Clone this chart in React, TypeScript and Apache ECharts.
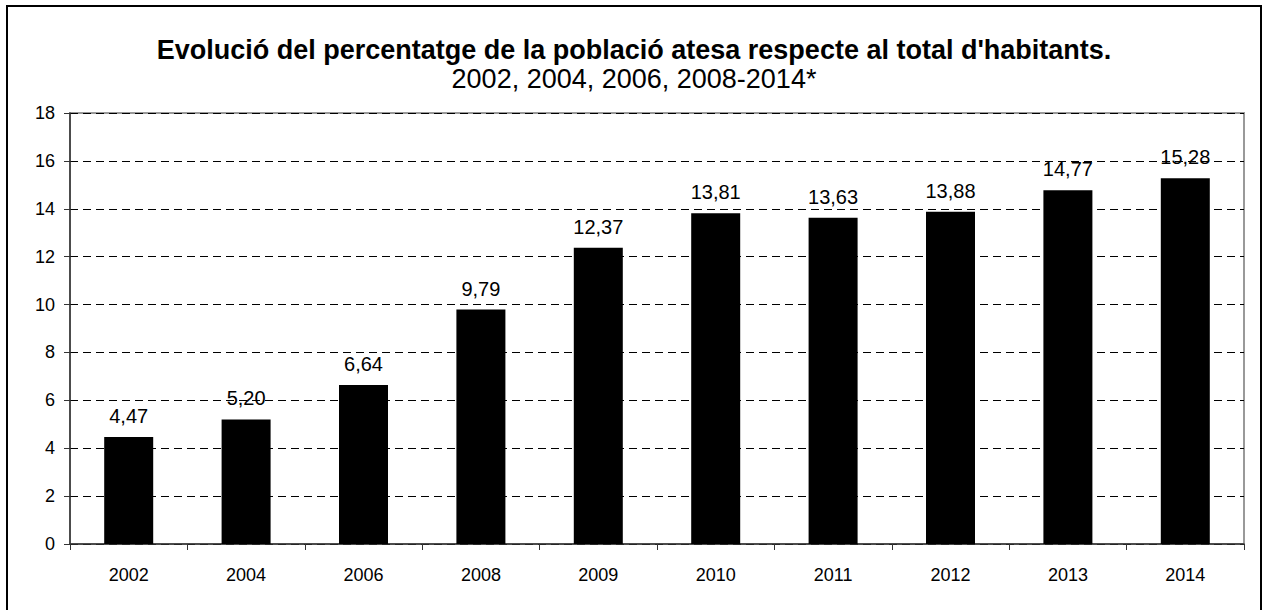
import React, { useEffect, useRef } from "react";
import * as echarts from "echarts";

const categories = ["2002", "2004", "2006", "2008", "2009", "2010", "2011", "2012", "2013", "2014"];
const values = [4.47, 5.2, 6.64, 9.79, 12.37, 13.81, 13.63, 13.88, 14.77, 15.28];
const titleText = "Evolució del percentatge de la població atesa respecte al total d'habitants.";
const subtitleText = "2002, 2004, 2006, 2008-2014*";

const FONT = "'Liberation Sans', Arial, sans-serif";

export default function App() {
  const ref = useRef<HTMLDivElement>(null);
  useEffect(() => {
    const chart = echarts.init(ref.current!, null, { renderer: "svg" });
    chart.setOption({
      animation: false,
      backgroundColor: "#ffffff",
      textStyle: { fontFamily: FONT },
      title: {
        text: titleText,
        subtext: subtitleText,
        left: "center",
        top: 31,
        itemGap: 2,
        textStyle: { fontFamily: FONT, fontSize: 27, fontWeight: "bold", color: "#000" },
        subtextStyle: { fontFamily: FONT, fontSize: 27, color: "#000" },
      },
      graphic: [
        {
          type: "rect",
          shape: { x: 7, y: 6, width: 1254, height: 620 },
          style: { fill: "none", stroke: "#000", lineWidth: 2 },
          silent: true,
        },
      ],
      grid: {
        left: 70,
        right: 24,
        top: 113,
        bottom: 66,
        show: true,
        borderColor: "#999",
        borderWidth: 2,
      },
      xAxis: {
        type: "category",
        data: categories,
        axisLine: { lineStyle: { color: "#333", width: 1.5 } },
        axisTick: { show: true, alignWithLabel: false, length: 6, lineStyle: { color: "#333" } },
        axisLabel: { color: "#000", fontSize: 18, fontFamily: FONT, margin: 22 },
      },
      yAxis: {
        type: "value",
        min: 0,
        max: 18,
        interval: 2,
        axisLine: { show: true, lineStyle: { color: "#333", width: 1.5 } },
        axisTick: { show: true, length: 6, lineStyle: { color: "#333" } },
        axisLabel: { color: "#000", fontSize: 18, fontFamily: FONT, margin: 15 },
        splitLine: { show: true, lineStyle: { color: "#000", type: [8, 5], width: 1 } },
      },
      series: [
        {
          type: "bar",
          data: values,
          barWidth: 49,
          itemStyle: { color: "#000" },
          label: {
            show: true,
            position: "top",
            distance: 11,
            color: "#000",
            fontSize: 20,
            fontFamily: FONT,
            formatter: (p: any) => Number(p.value).toFixed(2).replace(".", ","),
          },
        },
      ],
    });
    return () => chart.dispose();
  }, []);
  return (
    <div
      ref={ref}
      style={{ position: "fixed", left: 0, top: 0, width: 1268, height: 610 }}
    />
  );
}
